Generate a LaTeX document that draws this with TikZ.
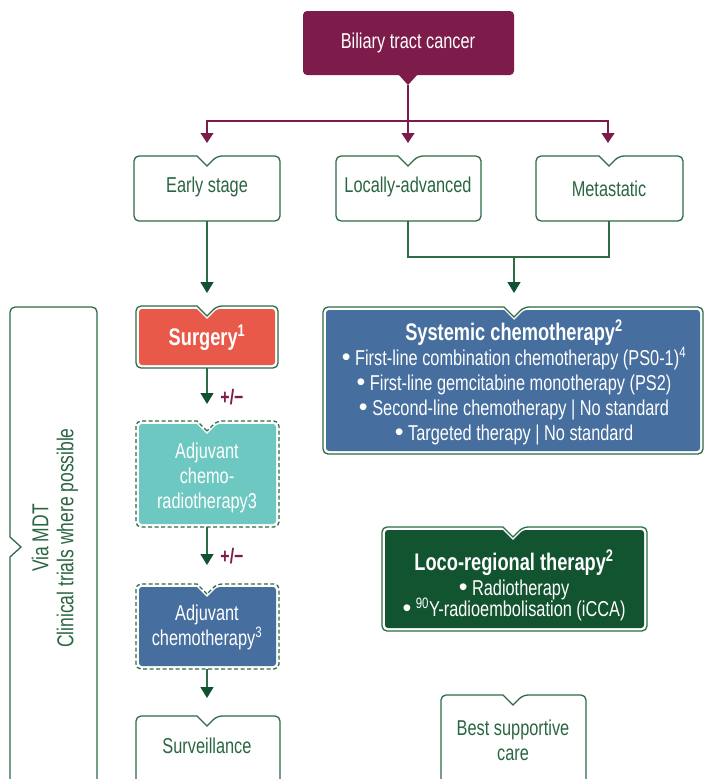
\documentclass[tikz,border=0pt]{standalone}
\usepackage{fontspec}
\setmainfont{Liberation Sans}[FakeStretch=0.76]
\newfontfamily\bulfont{Liberation Sans}
\newcommand{\bul}{{\bulfont\fontsize{25}{25}\selectfont •}}
\newcommand{\ttl}{\fontsize{24}{26}\selectfont\bfseries}
\usetikzlibrary{arrows.meta}
\definecolor{maroon}{HTML}{7D1C4A}
\definecolor{bgreen}{HTML}{2E6B47}
\definecolor{tgreen}{HTML}{2A6642}
\definecolor{dgreen}{HTML}{0F5130}
\definecolor{sred}{HTML}{E8594A}
\definecolor{tealc}{HTML}{6DC8C1}
\definecolor{sblue}{HTML}{466E9E}
\definecolor{lgreen}{HTML}{135430}
% #1 style, #2 x1, #3 y1, #4 x2, #5 y2, #6 notch x, #7 corner radius
\newcommand{\nbshape}[7]{%
  \path[#1] (#6,#3+10) -- (#6-10,#3) [rounded corners=#7] -- (#2,#3) -- (#2,#5) -- (#4,#5) -- (#4,#3) -- (#6+10,#3) [sharp corners] -- cycle;}
\tikzset{
  txt/.style={font=\fontsize{21.5}{25}\selectfont, align=center, inner sep=0pt},
  btxt/.style={font=\fontsize{24}{26}\selectfont\bfseries, align=center, inner sep=0pt},
  outl/.style={draw=bgreen, line width=1.3pt},
  dashoutl/.style={draw=bgreen, line width=1.3pt, dash pattern=on 4pt off 2.5pt},
  mline/.style={draw=maroon, line width=1.3pt},
  marrow/.style={mline, -{Triangle[width=13pt,length=10pt]}},
  gline/.style={draw=bgreen, line width=1.5pt},
  garrow/.style={gline, -{Triangle[width=13pt,length=11pt,color=dgreen]}},
}
\begin{document}
\begin{tikzpicture}[x=1pt,y=-1pt]
\useasboundingbox (0,0) rectangle (704,779);
\clip (0,0) rectangle (704,779);
\fill[white] (0,0) rectangle (704,779);

% top box
\fill[maroon, rounded corners=4] (303,11) rectangle (514,75);
\fill[maroon] (398,74) -- (408,85) -- (418,74) -- cycle;
\node[txt, text=white] (btc) at (408,43) {Biliary tract cancer};
\coordinate (btc-tab) at (408,85);
\coordinate (split) at (408,121);
\coordinate (es-in) at (207,143);
\coordinate (la-in) at (408,143);
\coordinate (me-in) at (608,143);
\draw[marrow] (btc-tab) -- (la-in);
\draw[marrow] (split) -| (es-in);
\draw[marrow] (split) -| (me-in);

% second row
\nbshape{outl, fill=white}{134}{156}{280}{221}{207}{5}
\nbshape{outl, fill=white}{336}{156}{481}{221}{408}{5}
\nbshape{outl, fill=white}{536}{156}{683}{221}{609}{5}
\node[txt, text=tgreen] (es) at (207,187) {Early stage};
\node[txt, text=tgreen] (la) at (408,187) {Locally-advanced};
\node[txt, text=tgreen] (me) at (609,189) {Metastatic};
\coordinate (es-b) at (207,221);
\coordinate (la-b) at (408,221);
\coordinate (me-b) at (609,221);
\coordinate (join) at (514,257);
\coordinate (su-in) at (207,293);
\coordinate (sc-in) at (514,293);
\draw[garrow] (es-b) -- (su-in);
\draw[gline] (la-b) |- (join) -| (me-b);
\draw[garrow] (join) -- (sc-in);

% surgery
\nbshape{outl, fill=white}{136}{306}{278}{368}{207}{5}
\nbshape{fill=sred}{139}{309}{275}{365}{207}{3}
\node[btxt, text=white] (su) at (207,338) {Surgery\textsuperscript{1}};
\coordinate (su-b) at (207,368);
\coordinate (acr-in) at (207,404);
\draw[garrow] (su-b) -- (acr-in);
\node[font=\fontsize{21}{24}\selectfont\bfseries, text=maroon, inner sep=0pt] (pm1) at (232,397) {+/−};

% adjuvant chemoradiotherapy
\nbshape{dashoutl, fill=white}{136}{421}{279}{527}{207}{5}
\nbshape{fill=tealc}{139}{424}{276}{524}{207}{3}
\node[txt, text=white] (acr) at (207,478) {Adjuvant\\chemo-\\radiotherapy3};
\coordinate (acr-b) at (207,527);
\coordinate (ac-in) at (207,565);
\draw[garrow] (acr-b) -- (ac-in);
\node[font=\fontsize{21}{24}\selectfont\bfseries, text=maroon, inner sep=0pt] (pm2) at (232,556) {+/−};

% adjuvant chemotherapy
\nbshape{dashoutl, fill=white}{136}{584}{279}{669}{207}{5}
\nbshape{fill=sblue}{139}{587}{276}{666}{207}{3}
\node[txt, text=white] (ac) at (207,627) {Adjuvant\\chemotherapy\textsuperscript{3}};
\coordinate (ac-b) at (207,669);
\coordinate (sv-in) at (207,698);
\draw[garrow] (ac-b) -- (sv-in);

% surveillance
\nbshape{outl, fill=white}{136}{716}{280}{795}{207}{5}
\node[txt, text=tgreen] (sv) at (207,746) {Surveillance};

% systemic chemotherapy
\nbshape{outl, fill=white}{323}{307}{703}{454}{514}{5}
\nbshape{fill=sblue}{326}{310}{700}{451}{514}{3}
\node[txt, text=white] (sc) at (514,382) {{\ttl Systemic chemotherapy\textsuperscript{2}}\\\bul\ First-line combination chemotherapy (PS0-1)\textsuperscript{4}\\\bul\ First-line gemcitabine monotherapy (PS2)\\\bul\ Second-line chemotherapy | No standard\\\bul\ Targeted therapy | No standard};

% loco-regional
\nbshape{outl, fill=white}{382}{527}{647}{631}{513}{5}
\nbshape{fill=lgreen}{385}{530}{644}{628}{513}{3}
\node[txt, text=white] (lr) at (514,585) {{\ttl Loco-regional therapy\textsuperscript{2}}\\\bul\ Radiotherapy\\[-4pt]\bul\ \textsuperscript{90}Y-radioembolisation (iCCA)};

% best supportive care
\nbshape{outl, fill=white}{441}{695}{586}{795}{513}{5}
\node[txt, text=tgreen] (bsc) at (513,740) {Best supportive\\care};

% left bracket
\draw[bgreen, line width=1.3pt] (10,795) -- (10,557) -- (21,547) -- (10,537) [rounded corners=5] -- (10,307) -- (97,307) -- (97,795);
\node[txt, text=tgreen, rotate=90, font=\fontsize{23}{25}\selectfont] (mdt) at (55,538) {Via MDT\\Clinical trials where possible};
\end{tikzpicture}
\end{document}
